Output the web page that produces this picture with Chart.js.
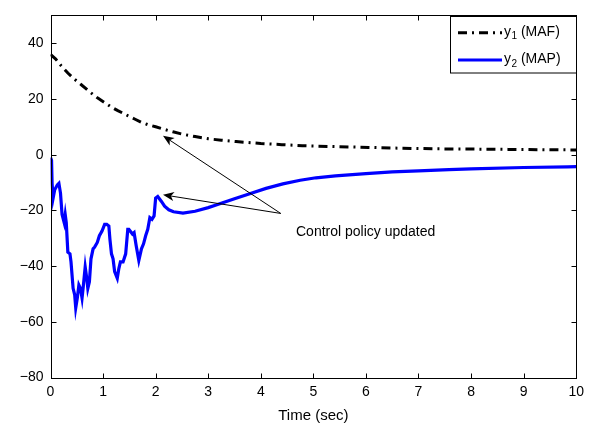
<!DOCTYPE html>
<html>
<head>
<meta charset="utf-8">
<script src="https://cdn.jsdelivr.net/npm/chart.js@4"></script>
<style>
  html, body { margin: 0; padding: 0; background: #fff; }
  #wrap { width: 590px; height: 427px; position: relative; }
</style>
</head>
<body>
<div id="wrap"><canvas id="c" width="590" height="427"></canvas></div>
<script>
// ---- data ----
const y1Label = "y1 (MAF)";
const y2Label = "y2 (MAP)";
const timeY1 = [0, 0.1, 0.2, 0.33, 0.45, 0.58, 0.7, 0.77, 0.9, 1.03, 1.15, 1.28, 1.4, 1.47, 1.6, 1.72, 1.85, 2.0, 2.16, 2.33, 2.5, 2.75, 3.0, 3.25, 3.53, 4.0, 4.4, 4.79, 5.4, 6.05, 6.7, 7.31, 8.0, 8.7, 9.3, 10];
const y1Values = [36, 34.3, 32, 29.3, 27.2, 25.2, 23.3, 22.2, 20.3, 18.7, 17.2, 15.8, 14.7, 14, 12.8, 11.7, 10.8, 10, 9.1, 8.2, 7.4, 6.5, 5.7, 5.2, 4.7, 4.0, 3.6, 3.2, 2.9, 2.6, 2.3, 2.1, 2.0, 1.9, 1.8, 1.7];
const timeY2 = [0, 0.02, 0.03, 0.05, 0.08, 0.13, 0.16, 0.19, 0.22, 0.26, 0.28, 0.30, 0.33, 0.37, 0.39, 0.43, 0.46, 0.48, 0.51, 0.54, 0.57, 0.60, 0.62, 0.66, 0.69, 0.71, 0.74, 0.77, 0.81, 0.84, 0.89, 0.93, 0.98, 1.03, 1.07, 1.11, 1.13, 1.16, 1.19, 1.22, 1.27, 1.30, 1.33, 1.38, 1.43, 1.47, 1.49, 1.56, 1.59, 1.63, 1.68, 1.73, 1.77, 1.81, 1.85, 1.89, 1.93, 1.97, 2.0, 2.04, 2.11, 2.17, 2.25, 2.34, 2.52, 2.75, 3.0, 3.15, 3.5, 3.79, 4.1, 4.42, 4.75, 5.05, 5.42, 6.0, 6.5, 7.0, 7.58, 8.0, 9.0, 9.84, 10];
const y2Values = [-1, -2, -10.3, -15.6, -12.6, -10.9, -10.3, -13.8, -21.5, -24.4, -21.5, -24.4, -35, -35.6, -38.5, -48, -50.3, -55, -51.5, -46.8, -48, -51.5, -48, -40.3, -44.4, -48, -45.6, -37.4, -33.8, -33.2, -31.5, -29.1, -27.4, -25, -25, -25.6, -30.3, -35.6, -37.4, -42, -44.4, -40.9, -38.5, -38.5, -35.6, -26.8, -26.8, -28.5, -28, -32.7, -38, -33.8, -32, -29.1, -26.8, -22.6, -23.2, -22, -15.6, -15, -16.8, -18.5, -19.8, -20.5, -21, -20.3, -19, -18.1, -15.8, -14, -12.1, -10.5, -9.2, -8.3, -7.6, -6.8, -6.2, -5.8, -5.4, -5.1, -4.6, -4.4, -4.3];
const xTicks = [0, 1, 2, 3, 4, 5, 6, 7, 8, 9, 10];
const yTicks = [-80, -60, -40, -20, 0, 20, 40];
const xTitle = "Time (sec)";
const annotationText = "Control policy updated";
const annotationTextAt = [4.67, -27.9];
const arrowTail = [4.38, -21.1];
const arrowTips = [[2.14, 6.8], [2.14, -14.4]];

const FONT = "'Liberation Sans', Arial, Helvetica, sans-serif";
const fmt = v => (v < 0 ? "\u2212" + Math.abs(v) : String(v));

const boxTicksPlugin = {
  id: 'boxTicks',
  afterDatasetsDraw(chart) {
    const {ctx, chartArea: a, scales: {x, y}} = chart;
    ctx.save();
    ctx.strokeStyle = '#000';
    ctx.lineWidth = 1;
    const L = Math.round(a.left) + 0.5, R = Math.round(a.right) + 0.5;
    const T = Math.round(a.top) + 0.5, B = Math.round(a.bottom) + 0.5;
    ctx.strokeRect(L, T, R - L, B - T);
    const tl = 5;
    ctx.beginPath();
    xTicks.forEach(v => {
      const px = Math.round(x.getPixelForValue(v)) + 0.5;
      ctx.moveTo(px, B); ctx.lineTo(px, B - tl);
      ctx.moveTo(px, T); ctx.lineTo(px, T + tl);
    });
    yTicks.forEach(v => {
      const py = Math.round(y.getPixelForValue(v)) + 0.5;
      ctx.moveTo(L, py); ctx.lineTo(L + tl, py);
      ctx.moveTo(R, py); ctx.lineTo(R - tl, py);
    });
    ctx.stroke();

    // annotation arrows
    const tx = x.getPixelForValue(arrowTail[0]), ty = y.getPixelForValue(arrowTail[1]);
    arrowTips.forEach(tip => {
      const hx = x.getPixelForValue(tip[0]), hy = y.getPixelForValue(tip[1]);
      const ang = Math.atan2(hy - ty, hx - tx);
      const len = 11, hw = 4.5, back = 8;
      const ux = Math.cos(ang), uy = Math.sin(ang);
      const bx = hx - ux * len, by = hy - uy * len;
      ctx.beginPath();
      ctx.moveTo(tx, ty);
      ctx.lineTo(hx - ux * back, hy - uy * back);
      ctx.lineWidth = 1;
      ctx.stroke();
      ctx.beginPath();
      ctx.moveTo(hx, hy);
      ctx.lineTo(bx - uy * hw, by + ux * hw);
      ctx.lineTo(hx - ux * back, hy - uy * back);
      ctx.lineTo(bx + uy * hw, by - ux * hw);
      ctx.closePath();
      ctx.fillStyle = '#000';
      ctx.fill();
    });
    ctx.fillStyle = '#000';
    ctx.font = "14px " + FONT;
    ctx.textAlign = 'left';
    ctx.textBaseline = 'middle';
    ctx.fillText(annotationText, x.getPixelForValue(annotationTextAt[0]), y.getPixelForValue(annotationTextAt[1]));

    // legend
    const bx0 = 450.5, by0 = 16.5, bw = 126, bh = 56.5;
    ctx.fillStyle = '#fff';
    ctx.fillRect(bx0, by0, bw, bh);
    ctx.strokeStyle = '#000';
    ctx.lineWidth = 1;
    ctx.strokeRect(bx0, by0, bw, bh);
    const rows = [32.7, 60];
    chart.data.datasets.forEach((ds, i) => {
      const ry = rows[i];
      ctx.save();
      ctx.strokeStyle = ds.borderColor;
      ctx.lineWidth = ds.borderWidth;
      ctx.setLineDash(ds.borderDash || []);
      ctx.lineDashOffset = ds.borderDashOffset || 0;
      ctx.beginPath();
      ctx.moveTo(458, ry); ctx.lineTo(502, ry);
      ctx.stroke();
      ctx.restore();
      const parts = ds.label.split(' ');
      const base = parts[0].charAt(0), sub = parts[0].slice(1), rest = ' ' + parts.slice(1).join(' ');
      ctx.fillStyle = '#000';
      ctx.textBaseline = 'middle';
      ctx.font = "14px " + FONT;
      let cx = 504;
      ctx.fillText(base, cx, ry - 1);
      cx += ctx.measureText(base).width;
      ctx.font = "10px " + FONT;
      ctx.fillText(sub, cx + 0.5, ry + 4);
      cx += ctx.measureText(sub).width + 0.5;
      ctx.font = "14px " + FONT;
      ctx.fillText(rest, cx, ry - 1);
    });
    ctx.restore();
  }
};

new Chart(document.getElementById('c'), {
  type: 'line',
  data: {
    datasets: [
      {
        label: y1Label,
        data: timeY1.map((t, i) => ({x: t, y: y1Values[i]})),
        borderColor: '#000000',
        borderWidth: 3,
        borderDash: [9, 5, 2, 5],
        pointRadius: 0,
        tension: 0,
        fill: false
      },
      {
        label: y2Label,
        data: timeY2.map((t, i) => ({x: t, y: y2Values[i]})),
        borderColor: '#0000ff',
        borderWidth: 3.2,
        pointRadius: 0,
        tension: 0,
        fill: false
      }
    ]
  },
  options: {
    responsive: false,
    animation: false,
    devicePixelRatio: 1,
    layout: { padding: { top: 9.5, right: 12, left: 0, bottom: 0 } },
    plugins: { legend: { display: false }, tooltip: { enabled: false } },
    scales: {
      x: {
        type: 'linear',
        min: 0, max: 10,
        afterBuildTicks: s => { s.ticks = xTicks.map(v => ({value: v})); },
        afterFit: s => { s.height = 49.5; },
        grid: { display: false, drawTicks: false },
        border: { display: false },
        ticks: { color: '#000', font: { family: FONT, size: 14 }, padding: 6, maxRotation: 0, callback: v => fmt(v) },
        title: { display: true, text: xTitle, color: '#000', font: { family: FONT, size: 15 }, padding: { top: 0, bottom: 2 } }
      },
      y: {
        type: 'linear',
        min: -80, max: 50,
        afterBuildTicks: s => { s.ticks = yTicks.map(v => ({value: v})); },
        afterFit: s => { s.width = 50.5; },
        grid: { display: false, drawTicks: false },
        border: { display: false },
        ticks: { color: '#000', font: { family: FONT, size: 14 }, padding: 7, callback: v => fmt(v) }
      }
    }
  },
  plugins: [boxTicksPlugin]
});
</script>
</body>
</html>
